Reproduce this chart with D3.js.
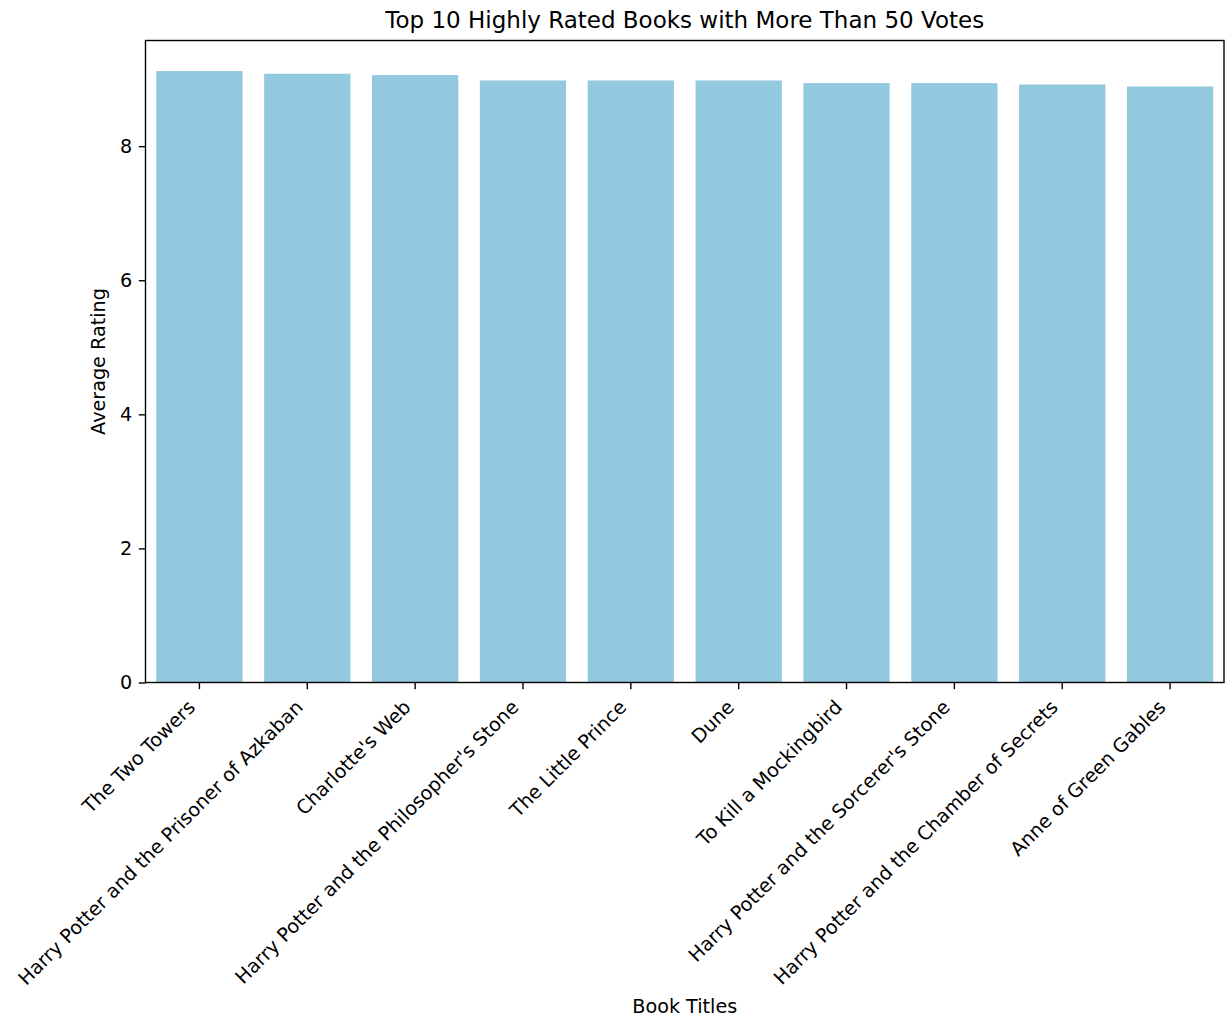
<!DOCTYPE html>
<html>
<head>
<meta charset="utf-8">
<script src="https://cdn.jsdelivr.net/npm/d3@7"></script>
<style>
  body { margin: 0; background: #fff; }
  svg { font-family: "DejaVu Sans", sans-serif; }
</style>
</head>
<body>
<svg id="chart" width="1225" height="1017"></svg>
<script>
const titles = [
  "The Two Towers",
  "Harry Potter and the Prisoner of Azkaban",
  "Charlotte's Web",
  "Harry Potter and the Philosopher's Stone",
  "The Little Prince",
  "Dune",
  "To Kill a Mockingbird",
  "Harry Potter and the Sorcerer's Stone",
  "Harry Potter and the Chamber of Secrets",
  "Anne of Green Gables"
];
const ratings = [9.12, 9.08, 9.06, 8.98, 8.98, 8.98, 8.94, 8.94, 8.92, 8.89];
const yTicks = [0, 2, 4, 6, 8];

const svg = d3.select("#chart");
const m = { left: 145.5, right: 1224, top: 40.5, bottom: 682.5 };
const fs = 19.2;
const tl = 6.7;

const x = d3.scaleBand().domain(titles).range([m.left, m.right]).paddingInner(0.2).paddingOuter(0.1);
const y = d3.scaleLinear().domain([0, d3.max(ratings) * 1.05]).range([m.bottom, m.top]);

const data = titles.map((t, i) => ({ t, v: ratings[i] }));

svg.append("g").selectAll("rect").data(data).join("rect")
  .attr("x", d => x(d.t))
  .attr("width", x.bandwidth())
  .attr("y", d => y(d.v))
  .attr("height", d => y(0) - y(d.v))
  .attr("fill", "#93c9de");

// spines
svg.append("rect")
  .attr("x", m.left).attr("y", m.top)
  .attr("width", m.right - m.left).attr("height", m.bottom - m.top)
  .attr("fill", "none").attr("stroke", "#000").attr("stroke-width", 1.4);

// y axis
const yAxis = d3.axisLeft(y).tickValues(yTicks).tickFormat(d3.format("d")).tickSize(tl).tickPadding(tl);
const gy = svg.append("g").attr("transform", `translate(${m.left},0)`).call(yAxis);
gy.select(".domain").remove();
gy.selectAll(".tick line").attr("stroke", "#000").attr("stroke-width", 1.4);
gy.selectAll(".tick text").attr("font-size", fs).attr("fill", "#000").attr("font-family", "DejaVu Sans");

// x axis
const xAxis = d3.axisBottom(x).tickSize(tl).tickFormat("");
const gx = svg.append("g").attr("transform", `translate(0,${m.bottom})`).call(xAxis);
gx.select(".domain").remove();
gx.selectAll(".tick line").attr("stroke", "#000").attr("stroke-width", 1.4);

svg.append("g").selectAll("text").data(titles).join("text")
  .attr("transform", d => `translate(${x(d) + x.bandwidth() / 2 - 3.2},${m.bottom + 2 * tl + 12.6}) rotate(-45)`)
  .attr("text-anchor", "end")
  .attr("font-size", fs)
  .attr("fill", "#000")
  .text(d => d);

// labels
svg.append("text")
  .attr("x", (m.left + m.right) / 2).attr("y", 28.3)
  .attr("text-anchor", "middle").attr("font-size", 23).attr("fill", "#000")
  .text("Top 10 Highly Rated Books with More Than 50 Votes");

svg.append("text")
  .attr("x", (m.left + m.right) / 2).attr("y", 1013.3)
  .attr("text-anchor", "middle").attr("font-size", fs).attr("fill", "#000")
  .text("Book Titles");

svg.append("text")
  .attr("transform", `translate(104.5,${(m.top + m.bottom) / 2}) rotate(-90)`)
  .attr("text-anchor", "middle").attr("font-size", fs).attr("fill", "#000")
  .text("Average Rating");
</script>
</body>
</html>
